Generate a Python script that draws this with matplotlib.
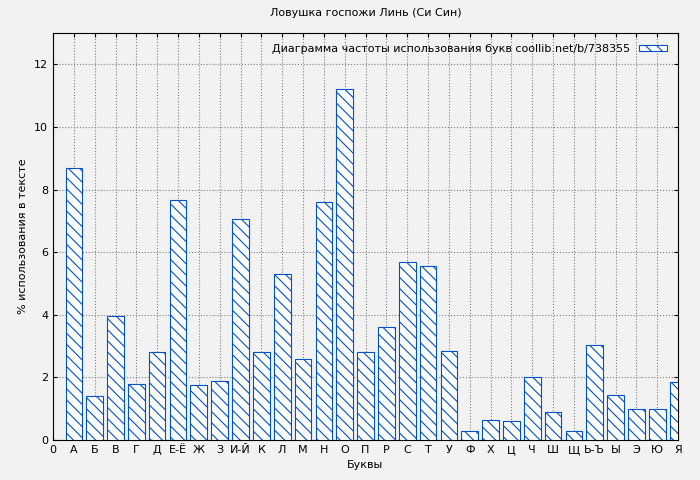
import matplotlib
matplotlib.use('Agg')
import matplotlib.pyplot as plt

# letters and usage percentages
letters = ['А', 'Б', 'В', 'Г', 'Д', 'Е-Ё', 'Ж', 'З', 'И-Й', 'К', 'Л', 'М', 'Н', 'О', 'П',
           'Р', 'С', 'Т', 'У', 'Ф', 'Х', 'Ц', 'Ч', 'Ш', 'Щ', 'Ь-Ъ', 'Ы', 'Э', 'Ю', 'Я']
values = [8.7, 1.4, 3.95, 1.8, 2.8, 7.65, 1.75, 1.9, 7.05, 2.8, 5.3, 2.6, 7.6, 11.2, 2.8,
          3.6, 5.7, 5.55, 2.85, 0.3, 0.65, 0.6, 2.0, 0.9, 0.3, 3.05, 1.45, 1.0, 1.0, 1.85]

plt.rcParams['hatch.color'] = '#0050c8'
plt.rcParams['hatch.linewidth'] = 0.8
fig = plt.figure(figsize=(7, 4.8), dpi=100, facecolor='#f2f2f2')
ax = fig.add_axes([53/700, 40/480, 625/700, 407/480])
ax.set_facecolor('#f2f2f2')

pos = list(range(1, len(letters) + 1))
ax.bar(pos, values, width=0.8, color='white', edgecolor='#0050c8', linewidth=0.8,
       hatch='\\\\\\', label='Диаграмма частоты использования букв coollib.net/b/738355', zorder=3)

ax.set_xlim(0, 30)
ax.set_ylim(0, 13)
ax.set_xticks([0] + pos)
ax.set_xticklabels(['0'] + letters, fontsize=8)
ax.set_yticks(range(0, 13, 2))
ax.tick_params(axis='y', labelsize=8)
ax.tick_params(direction='in', top=True, right=True, length=3)
ax.grid(True, color='#808080', linestyle=':', linewidth=0.8, zorder=0)
ax.set_xlabel('Буквы', fontsize=8)
ax.set_ylabel('% использования в тексте', fontsize=8)
ax.set_title('Ловушка госпожи Линь (Си Син)', fontsize=8, pad=12)
ax.legend(loc='upper right', frameon=False, fontsize=8, handlelength=2.5, handleheight=0.4,
          markerfirst=False, borderaxespad=0.6)

fig.savefig('out.png', dpi=100, facecolor=fig.get_facecolor())
